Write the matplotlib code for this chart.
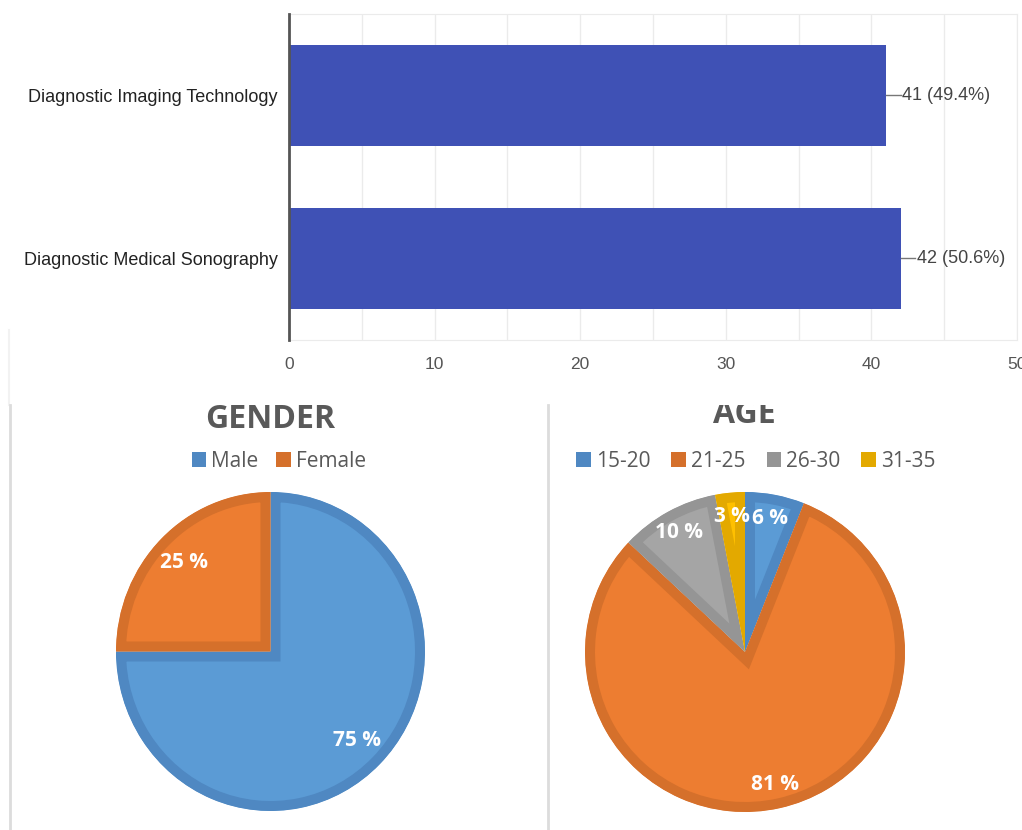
import matplotlib.pyplot as plt
from matplotlib.patches import Patch, Rectangle
from matplotlib.lines import Line2D

# Data
programs = ["Diagnostic Imaging Technology", "Diagnostic Medical Sonography"]
counts = [41, 42]
count_labels = ["41 (49.4%)", "42 (50.6%)"]

gender_labels = ["Male", "Female"]
gender_pct = [75, 25]

age_labels = ["15-20", "21-25", "26-30", "31-35"]
age_pct = [6, 81, 10, 3]

# Colours
bar_color = "#3f51b5"
gender_fill = ["#5b9bd5", "#ed7d31"]
gender_edge = ["#4f88c2", "#d5702b"]
age_fill = ["#5b9bd5", "#ed7d31", "#a5a5a5", "#ffc000"]
age_edge = ["#4f88c2", "#d5702b", "#959595", "#e3a900"]

W, H = 1022, 830
fig = plt.figure(figsize=(W / 100, H / 100), dpi=100)


def box(left, top, right, bottom):
    return [left / W, 1 - bottom / H, (right - left) / W, (bottom - top) / H]


# Top bar chart
ax = fig.add_axes(box(289, 14, 1017, 340))
ax.set_zorder(3)
ypos = list(range(len(programs)))
ax.barh(ypos, counts, height=0.623, color=bar_color, zorder=2)
for y, c, lab in zip(ypos, counts, count_labels):
    ax.plot([c, c + 1.0], [y, y], color="#777777", lw=1, zorder=2)
    ax.text(c + 1.1, y, lab, va="center", ha="left", fontsize=13,
            color="#444444", family="Liberation Sans")
ax.set_xlim(0, 50)
ax.set_ylim(1.5, -0.5)
ax.set_xticks(range(0, 51, 10))
ax.set_xticks(range(0, 51, 5), minor=True)
ax.set_yticks(ypos)
ax.set_yticklabels(programs, fontsize=13, color="#222222", family="Liberation Sans")
ax.set_xticklabels([str(v) for v in range(0, 51, 10)], fontsize=12.5,
                   color="#555555", family="Liberation Sans")
ax.tick_params(axis="both", which="both", length=0)
ax.tick_params(axis="x", pad=12)
ax.tick_params(axis="y", pad=8)
ax.grid(axis="x", which="both", color="#ebebeb", lw=1, zorder=0)
for s in ["top", "right", "bottom"]:
    ax.spines[s].set_color("#ebebeb")
ax.spines["left"].set_color("#555555")
ax.spines["left"].set_linewidth(2)
ax.spines["left"].set_zorder(3)

# white band that clips the top of the AGE title
fig.patches.append(Rectangle((0, 1 - 405 / H), 1, 405 / H, transform=fig.transFigure,
                             facecolor="white", edgecolor="none", zorder=2))
fig.lines.append(Line2D([9 / W, 9 / W], [1 - 330 / H, 1 - 405 / H], transform=fig.transFigure,
                        color="#f2f2f2", lw=1.5, zorder=4))

# panel borders
for x in [10, 548]:
    fig.lines.append(Line2D([x / W, x / W], [1 - 405 / H, 0], transform=fig.transFigure,
                            color="#dcdcdc", lw=2, zorder=4))

excel_font = "Open Sans"


def excel_pie(axp, values, fills, edges, pctdist):
    wedges, texts, autotexts = axp.pie(
        values, colors=fills, startangle=90, counterclock=False,
        autopct=lambda p: f"{p:.0f} %", pctdistance=pctdist,
        wedgeprops=dict(edgecolor="none", linewidth=0),
        textprops=dict(color="white", fontsize=15, fontweight="bold", family=excel_font))
    # inner border only: double-width stroke clipped to the wedge itself
    for w, ec in zip(wedges, edges):
        w.set_edgecolor(ec)
        w.set_linewidth(14.4)
        w.set_joinstyle("miter")
        w.set_clip_path(w)
        w.set_clip_on(True)
    for t in autotexts:
        t.set_zorder(5)
    axp.set_xlim(-1, 1)
    axp.set_ylim(-1, 1)
    axp.set_aspect("auto")
    axp.axis("off")


# Gender pie
ax_g = fig.add_axes(box(116, 492, 425, 811))
excel_pie(ax_g, gender_pct, gender_fill, gender_edge, 0.79)
fig.text(270 / W, 1 - 420 / H, "GENDER", ha="center", va="center", fontsize=23,
         fontweight="bold", color="#595959", family=excel_font)
fig.legend([Patch(facecolor=c, edgecolor="none") for c in gender_edge], gender_labels,
           loc="center", bbox_to_anchor=(279 / W, 1 - 461 / H), ncol=2, frameon=False,
           handlelength=0.7, handleheight=0.7, handletextpad=0.25, columnspacing=0.85,
           prop=dict(family=excel_font, size=15), labelcolor="#595959")

# Age pie
ax_a = fig.add_axes(box(585, 492, 905, 812))
excel_pie(ax_a, age_pct, age_fill, age_edge, 0.85)
fig.text(744 / W, 1 - 414 / H, "AGE", ha="center", va="center", fontsize=23,
         fontweight="bold", color="#595959", family=excel_font, zorder=1)
fig.legend([Patch(facecolor=c, edgecolor="none") for c in age_edge], age_labels,
           loc="center", bbox_to_anchor=(756 / W, 1 - 461 / H), ncol=4, frameon=False,
           handlelength=0.7, handleheight=0.7, handletextpad=0.25, columnspacing=1.0,
           prop=dict(family=excel_font, size=15), labelcolor="#595959")

fig.savefig("out.png", dpi=100, facecolor="white")
